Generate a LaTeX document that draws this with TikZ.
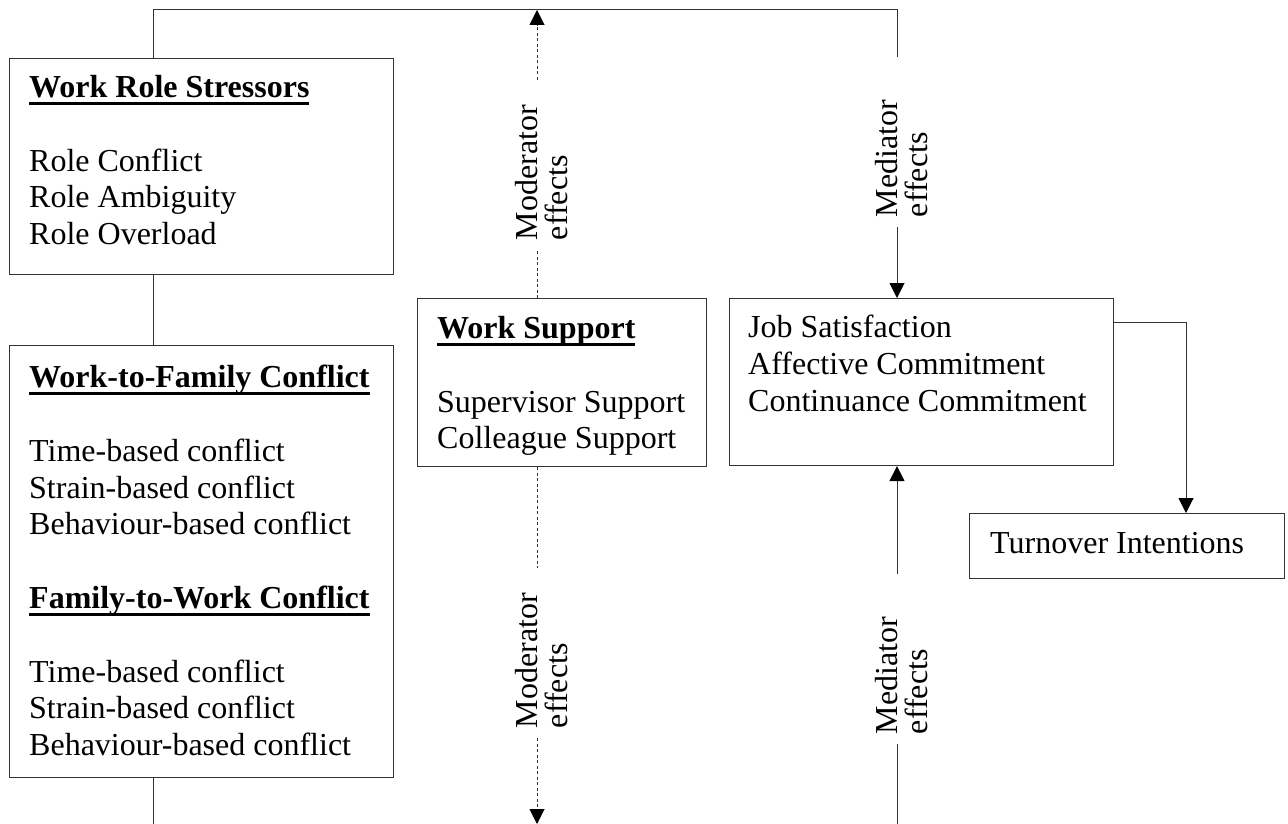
\documentclass[tikz,border=0pt]{standalone}
\usepackage{fontspec}
\setmainfont{Liberation Serif}
\usetikzlibrary{arrows.meta,positioning}

\newcommand{\uhead}[1]{\setbox0\hbox{\bfseries #1}\rlap{\rule[-7.5pt]{\wd0}{3pt}}\box0}

\tikzset{
  box/.style = {draw=black!80, line width=1.1pt, anchor=north west, inner sep=0pt},
  txt/.style = {anchor=north west, inner sep=0pt, align=left, font=\fontsize{32}{36.8}\selectfont},
  conn/.style = {draw=black!80, line width=1pt},
  dotline/.style = {conn, dash pattern=on 3pt off 2.5pt},
  arr/.style = {-{Triangle[length=15pt,width=15pt,black]}},
  lbl/.style = {rotate=90, inner xsep=10pt, inner ysep=0pt, text width=150pt, align=left, font=\fontsize{32}{30}\selectfont}
}

\begin{document}
\begin{tikzpicture}[x=1pt, y=-1pt]
  \useasboundingbox (0,0) rectangle (1288,824);

  % boxes
  \node[box, minimum width=384pt, minimum height=216pt] (wrs) at (9,58) {};
  \node[box, minimum width=384pt, minimum height=432pt] (wfc) at (9,345) {};
  \node[box, minimum width=289pt, minimum height=168pt] (sup) at (417,298) {};
  \node[box, minimum width=384pt, minimum height=167pt] (job) at (729,298) {};
  \node[box, minimum width=315pt, minimum height=65pt] (tov) at (969,513) {};

  % box texts
  \node[txt] (wrstxt) at ([shift={(20pt,-17pt)}]wrs.north west) {\uhead{Work Role Stressors}\\[36.8pt] Role Conflict\\ Role Ambiguity\\ Role Overload};
  \node[txt] (wfctxt) at ([shift={(20pt,-20pt)}]wfc.north west) {\uhead{Work-to-Family Conflict}\\[36.8pt] Time-based conflict\\ Strain-based conflict\\ Behaviour-based conflict\\[36.8pt] \uhead{Family-to-Work Conflict}\\[36.8pt] Time-based conflict\\ Strain-based conflict\\ Behaviour-based conflict};
  \node[txt] (suptxt) at ([shift={(20pt,-18pt)}]sup.north west) {\uhead{Work Support}\\[36.8pt] Supervisor Support\\ Colleague Support};
  \node[txt] (jobtxt) at ([shift={(19pt,-17pt)}]job.north west) {Job Satisfaction\\ Affective Commitment\\ Continuance Commitment};
  \node[txt] (tovtxt) at ([shift={(21pt,-19pt)}]tov.north west) {Turnover Intentions};

  % ends of the frame lines
  \coordinate (tl) at (153,10);
  \coordinate (tm) at (537,10);
  \coordinate (tr) at (897,10);
  \coordinate (bl) at (153,824);
  \coordinate (bm) at (537,824);
  \coordinate (br) at (897,824);
  \coordinate (rt) at (1186,322);

  % effect labels
  \node[lbl] (modup) at (541.5,165) {Moderator\\effects};
  \node[lbl] (medup) at (901.5,142) {Mediator\\effects};
  \node[lbl] (modlo) at (541.5,653) {Moderator\\effects};
  \node[lbl] (medlo) at (901.5,659) {Mediator\\effects};

  \draw[conn] (wrs.north -| tl) -- (tl) -- (tr) -- (tr |- medup.east);
  \draw[conn, arr] (tr |- medup.west) -- (job.north -| tr);
  \draw[conn] (wrs.south -| tl) -- (wfc.north -| tl);
  \draw[conn] (wfc.south -| tl) -- (bl);

  \draw[dotline] (sup.north -| tm) -- (tm |- modup.west);
  \draw[dotline, arr] (tm |- modup.east) -- (tm);
  \draw[dotline] (sup.south -| bm) -- (bm |- modlo.east);
  \draw[dotline, arr] (bm |- modlo.west) -- (bm);

  \draw[conn] (br) -- (br |- medlo.west);
  \draw[conn, arr] (br |- medlo.east) -- (job.south -| br);
  \draw[conn, arr] (job.east |- rt) -- (rt) -- (tov.north -| rt);
\end{tikzpicture}
\end{document}
